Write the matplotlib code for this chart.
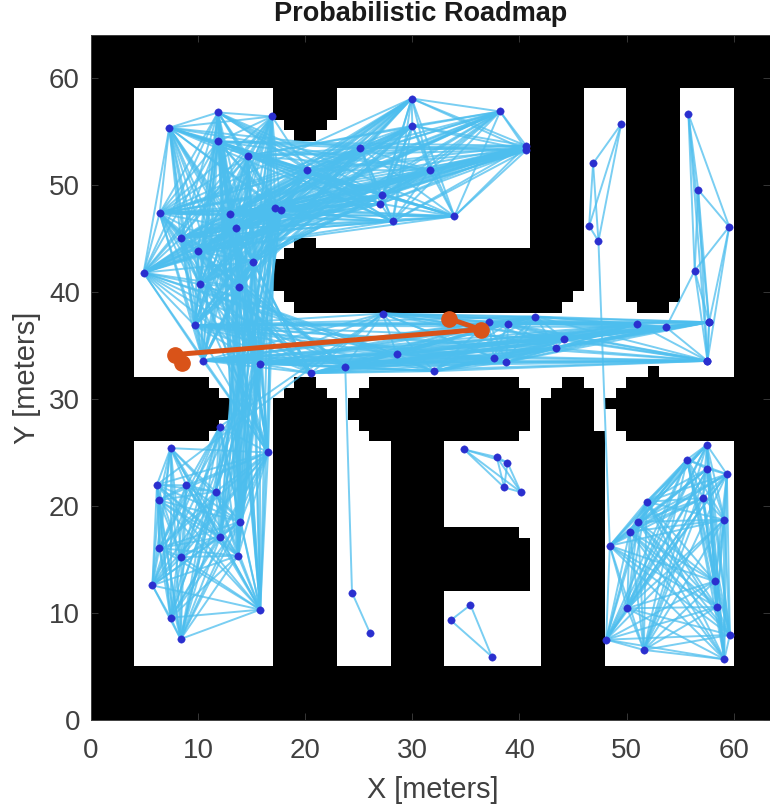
import numpy as np
import matplotlib
matplotlib.use("Agg")
import matplotlib.pyplot as plt

plt.rcParams['font.family'] = ['Liberation Sans', 'DejaVu Sans']

# free space and blocks of the map, in metres: x0, x1, y0, y1
free_rects = [(4, 60, 32, 59), (4, 17, 5, 26), (23, 28, 5, 26), (33, 42, 5, 26), (48, 60, 5, 26),
              (11, 19, 31, 32), (12, 18, 30, 31), (13, 17, 28, 30), (12, 17, 27, 28), (11, 17, 26, 27),
              (21, 26, 31, 32), (22, 25, 30, 31), (23, 24, 28, 30), (23, 25, 27, 28), (23, 26, 26, 27),
              (40, 44, 31, 32), (41, 43, 30, 31), (41, 42, 27, 30), (40, 42, 26, 27),
              (46, 50, 31, 32), (47, 49, 30, 31), (47, 48, 29, 30), (47, 49, 27, 29), (48, 50, 26, 27)]
wall_rects = [(17, 23, 56, 59), (18, 22, 55, 56), (19, 21, 54, 55),
              (19, 21, 44, 45), (18, 46, 43, 44), (17, 46, 40, 43), (18, 45, 39, 40), (19, 44, 38, 39),
              (41, 46, 44, 59), (50, 55, 39, 59), (51, 54, 38, 39), (52, 53, 32, 33),
              (33, 40, 17, 18), (33, 41, 12, 17)]

# roadmap nodes, one group per connected part of the map
main_x = [7.31, 11.86, 16.9, 11.88, 14.66, 25.15, 20.2, 29.94, 30.0, 31.62, 27.2, 27.02, 28.16,
          6.41, 12.94, 17.2, 17.74, 13.5, 8.37, 9.95, 15.12, 4.91, 10.2, 13.85, 9.67, 27.23, 28.54,
          10.45, 15.8, 23.74, 20.54, 38.2, 40.63, 40.66, 33.93, 53.7, 51.02, 41.5, 37.14, 38.95,
          44.15, 43.4, 37.6, 38.76, 32.0, 57.71, 57.56,
          12.01, 7.43, 16.53, 6.16, 8.9, 6.32, 11.64, 13.94, 12.07, 6.38, 8.44, 13.73, 5.73, 15.8,
          7.43, 8.37]
main_y = [55.34, 56.77, 56.39, 54.06, 52.72, 53.44, 51.36, 58.07, 55.52, 51.39, 49.02, 48.25, 46.6,
          47.35, 47.25, 47.84, 47.63, 45.95, 45.01, 43.8, 42.81, 41.81, 40.72, 40.47, 36.9, 37.99, 34.19,
          33.6, 33.29, 33.04, 32.42, 56.86, 53.66, 53.25, 47.07, 36.71, 37.02, 37.71, 37.24, 37.05,
          35.65, 34.75, 33.85, 33.45, 32.61, 37.18, 33.57,
          27.41, 25.42, 25.02, 22.0, 21.94, 20.57, 21.35, 18.55, 17.12, 16.09, 15.25, 15.38, 12.61, 10.34,
          9.59, 7.6]
shaft_x = [49.5, 46.88, 46.51, 47.38]
shaft_y = [55.68, 52.01, 46.16, 44.76]
east_x = [55.78, 56.69, 59.59, 56.37, 57.71, 57.56]
east_y = [56.61, 49.55, 46.1, 42.0, 37.18, 33.57]
southeast_x = [57.5, 55.66, 57.56, 59.37, 57.13, 51.87, 59.14, 51.08, 50.3, 48.44, 58.24, 58.43,
               50.06, 59.65, 48.1, 51.62, 59.14]
southeast_y = [25.73, 24.36, 23.49, 22.99, 20.76, 20.41, 18.74, 18.55, 17.62, 16.31, 12.98, 10.59,
               10.47, 7.98, 7.54, 6.58, 5.71]
pocket_x = [34.84, 37.89, 38.88, 38.58, 40.13]
pocket_y = [25.3, 24.58, 24.08, 21.75, 21.32]
corner_x = [35.43, 33.59, 37.42]
corner_y = [10.78, 9.35, 5.96]
south_x = [24.37, 26.05]
south_y = [11.93, 8.16]

# single links between the groups
bridges = [((47.38, 44.76), (48.44, 16.31)), ((56.37, 42.0), (53.7, 36.71)),
           ((24.37, 11.93), (23.74, 33.04))]

path_x = [33.44, 36.39, 7.86, 8.5]
path_y = [37.52, 36.5, 34.16, 33.41]

x_ticks = [0, 10, 20, 30, 40, 50, 60]
y_ticks = [0, 10, 20, 30, 40, 50, 60]

grid = np.ones((64, 64))
for x0, x1, y0, y1 in free_rects:
    grid[y0:y1, x0:x1] = 0
for x0, x1, y0, y1 in wall_rects:
    grid[y0:y1, x0:x1] = 1


def clear(a, b, tol=0.15):
    # line of sight on the grid, corners may be grazed a little
    for t in np.linspace(0, 1, 300):
        px = a[0] + t*(b[0]-a[0])
        py = a[1] + t*(b[1]-a[1])
        hits = [grid[int(py+dy), int(px+dx)] for dx in (-tol, tol) for dy in (-tol, tol)]
        if min(hits) == 1:
            return False
    return True


fig = plt.figure(figsize=(7.7, 8.1), dpi=100)
ax = fig.add_axes([91/770, (810-720.4)/810, 679/770, 685.4/810])
ax.imshow(1-grid, cmap='gray', vmin=0, vmax=1, origin='lower', extent=(0, 64, 0, 64),
          interpolation='nearest', aspect='auto')

groups = [(main_x, main_y), (shaft_x, shaft_y), (east_x, east_y), (southeast_x, southeast_y),
          (pocket_x, pocket_y), (corner_x, corner_y), (south_x, south_y)]
for xs, ys in groups:
    pts = list(zip(xs, ys))
    for i in range(len(pts)):
        for j in range(i+1, len(pts)):
            if clear(pts[i], pts[j]):
                ax.plot([pts[i][0], pts[j][0]], [pts[i][1], pts[j][1]], color='#4DBEEE', lw=1.4, alpha=0.75)
for a, b in bridges:
    ax.plot([a[0], b[0]], [a[1], b[1]], color='#4DBEEE', lw=1.4, alpha=0.75)

for xs, ys in groups:
    ax.plot(xs, ys, linestyle='none', marker='o', ms=5.3, mfc='#2A2FCF', mec='#2A2FCF', mew=0.3, zorder=5)

ax.plot(path_x, path_y, color='#D95319', lw=3.6, marker='o', ms=11, zorder=6)

ax.set_xlim(0, 679/10.71)
ax.set_ylim(0, 64)
ax.set_xticks(x_ticks)
ax.set_yticks(y_ticks)
ax.tick_params(direction='in', length=5, width=0.6, color='#404040', labelcolor='#404040', labelsize=20,
               top=True, right=True)
ax.tick_params(axis='x', pad=12.5)
ax.tick_params(axis='y', pad=8)
for s in ax.spines.values():
    s.set_color('#404040')
    s.set_linewidth(0.7)
ax.set_xlabel("X [meters]", fontsize=20.8, color='#404040', labelpad=9, x=0.503)
ax.set_ylabel("Y [meters]", fontsize=21, color='#404040', labelpad=5.5)
ax.set_title("Probabilistic Roadmap", fontsize=19.5, fontweight='bold', color='#1a1a1a', pad=10, x=0.486)

plt.savefig("out.png", dpi=100)
plt.close()
